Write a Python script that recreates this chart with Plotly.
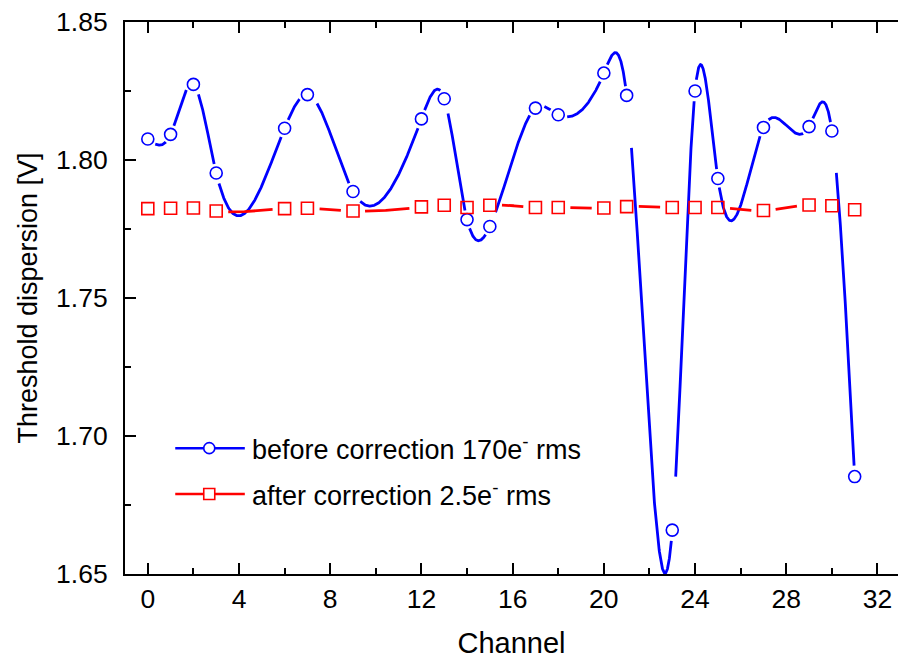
import numpy as np
import plotly.graph_objects as go

# channels that were measured
channels = [0, 1, 2, 3, 6, 7, 9, 12, 13, 14, 15, 17, 18, 20, 21, 23, 24, 25, 27, 29, 30, 31]

# threshold dispersion [V]
before_corr = [1.8076, 1.8093, 1.8274, 1.7953, 1.8115, 1.8237, 1.7886, 1.8149, 1.8222, 1.7784, 1.7759,
               1.8188, 1.8164, 1.8315, 1.8234, 1.6659, 1.8250, 1.7933, 1.8118, 1.8121, 1.8105, 1.6853]
after_corr = [1.7824, 1.7825, 1.7826, 1.7815, 1.7824, 1.7825, 1.7815, 1.7830, 1.7836, 1.7828, 1.7836,
              1.7828, 1.7828, 1.7826, 1.7831, 1.7828, 1.7828, 1.7828, 1.7817, 1.7837, 1.7834, 1.7820]

before_name = "before correction 170e<sup>-</sup> rms"
after_name = "after correction 2.5e<sup>-</sup> rms"

W, H = 898, 660
ML, MR, MT, MB = 125, 0, 22, 86
X_RANGE = [-1, 32.9]
Y_RANGE = [1.65, 1.85]
px_x = (W - ML - MR) / (X_RANGE[1] - X_RANGE[0])
px_y = (H - MT - MB) / (Y_RANGE[1] - Y_RANGE[0])

BLUE = "#0000FF"
RED = "#FF0000"
FONT = "Arial, Liberation Sans, sans-serif"


def natural_spline(x, y):
    x = np.asarray(x, float)
    y = np.asarray(y, float)
    n = len(x)
    h = np.diff(x)
    A = np.zeros((n, n))
    r = np.zeros(n)
    A[0, 0] = A[-1, -1] = 1
    for i in range(1, n - 1):
        A[i, i - 1] = h[i - 1]
        A[i, i] = 2 * (h[i - 1] + h[i])
        A[i, i + 1] = h[i]
        r[i] = 3 * ((y[i + 1] - y[i]) / h[i] - (y[i] - y[i - 1]) / h[i - 1])
    c = np.linalg.solve(A, r)
    b = np.diff(y) / h - h * (2 * c[:-1] + c[1:]) / 3
    d = np.diff(c) / (3 * h)
    return x, y, b, c, d


# spline line with gaps around the symbols (like Origin does)
def gapped_spline(xd, yd, gap, start_frac):
    x, y, b, c, d = natural_spline(xd, yd)
    xs_out, ys_out = [], []
    for i in range(len(x) - 1):
        t = np.linspace(0, x[i + 1] - x[i], 200)
        xs = x[i] + t
        ys = y[i] + b[i] * t + c[i] * t ** 2 + d[i] * t ** 3
        chord = np.hypot((x[i + 1] - x[i]) * px_x, (y[i + 1] - y[i]) * px_y)
        d0 = np.hypot((xs - x[i]) * px_x, (ys - y[i]) * px_y)
        d1 = np.hypot((xs - x[i + 1]) * px_x, (ys - y[i + 1]) * px_y)
        keep = (d0 > max(gap, start_frac * chord)) & (d1 > gap)
        prev = False
        for k in range(len(t)):
            if keep[k]:
                xs_out.append(xs[k])
                ys_out.append(ys[k])
            elif prev:
                xs_out.append(None)
                ys_out.append(None)
            prev = keep[k]
        if prev:
            xs_out.append(None)
            ys_out.append(None)
    return xs_out, ys_out


fig = go.Figure()

bx, by = gapped_spline(channels, before_corr, 9, 0.12)
fig.add_trace(go.Scatter(x=bx, y=by, mode="lines", line=dict(color=BLUE, width=2.8),
                         showlegend=False, hoverinfo="skip"))
fig.add_trace(go.Scatter(x=channels, y=before_corr, mode="markers", name=before_name,
                         marker=dict(symbol="circle-open", size=12, color=BLUE, line=dict(width=1.6)),
                         showlegend=False))

ax, ay = gapped_spline(channels, after_corr, 12, 0.12)
fig.add_trace(go.Scatter(x=ax, y=ay, mode="lines", line=dict(color=RED, width=2.8),
                         showlegend=False, hoverinfo="skip"))
fig.add_trace(go.Scatter(x=channels, y=after_corr, mode="markers", name=after_name,
                         marker=dict(symbol="square-open", size=12, color=RED, line=dict(width=1.6)),
                         showlegend=False))

# legend drawn by hand (Origin style: long line with symbol in the middle)
shapes = []
annotations = []
for yy, col, sym, label in [(0.228, BLUE, "circle", before_name), (0.145, RED, "rect", after_name)]:
    shapes.append(dict(type="line", xref="paper", yref="paper", x0=0.065, x1=0.155, y0=yy, y1=yy,
                       line=dict(color=col, width=2.5)))
    shapes.append(dict(type=sym, xref="paper", yref="paper", xsizemode="pixel", ysizemode="pixel",
                       xanchor=0.109, yanchor=yy, x0=-5.5, x1=5.5, y0=-5.5, y1=5.5,
                       fillcolor="white", line=dict(color=col, width=1.6)))
    annotations.append(dict(xref="paper", yref="paper", x=0.162, y=yy, xanchor="left", yanchor="middle",
                            text=label, showarrow=False, font=dict(size=27, color="black", family=FONT)))

fig.update_layout(
    width=W, height=H,
    margin=dict(l=ML, r=MR, t=MT, b=MB),
    plot_bgcolor="white", paper_bgcolor="white",
    font=dict(family=FONT, color="black"),
    shapes=shapes, annotations=annotations,
    showlegend=False,
    xaxis=dict(range=X_RANGE, showline=True, linecolor="black", linewidth=2, mirror="ticks",
               ticks="inside", ticklen=11, tickwidth=2, tickcolor="black", tick0=0, dtick=4,
               minor=dict(dtick=2, ticks="inside", ticklen=6, tickwidth=2, tickcolor="black"),
               showgrid=False, zeroline=False, tickfont=dict(size=26.5), ticklabelstandoff=0,
               automargin=False,
               title=dict(text="Channel", font=dict(size=29), standoff=20)),
    yaxis=dict(range=Y_RANGE, showline=True, linecolor="black", linewidth=2,
               ticks="inside", ticklen=11, tickwidth=2, tickcolor="black", tick0=1.65, dtick=0.05,
               tickformat=".2f", automargin=False,
               minor=dict(dtick=0.025, ticks="inside", ticklen=6, tickwidth=2, tickcolor="black"),
               showgrid=False, zeroline=False, tickfont=dict(size=26.5), ticklabelstandoff=10,
               title=dict(text="Threshold dispersion [V]", font=dict(size=27), standoff=11)),
    yaxis2=dict(range=Y_RANGE, overlaying="y", side="right", showline=False, showticklabels=False,
                ticks="inside", ticklen=11, tickwidth=2, tickcolor="black", tick0=1.65, dtick=0.05,
                automargin=False,
                minor=dict(dtick=0.025, ticks="inside", ticklen=6, tickwidth=2, tickcolor="black"),
                showgrid=False, zeroline=False),
)

# page has a default 8px body margin; drop it so the figure sits at the top-left corner
fig.write_html("out.html", config={"displayModeBar": False},
               post_script="document.body.style.margin='0';")
